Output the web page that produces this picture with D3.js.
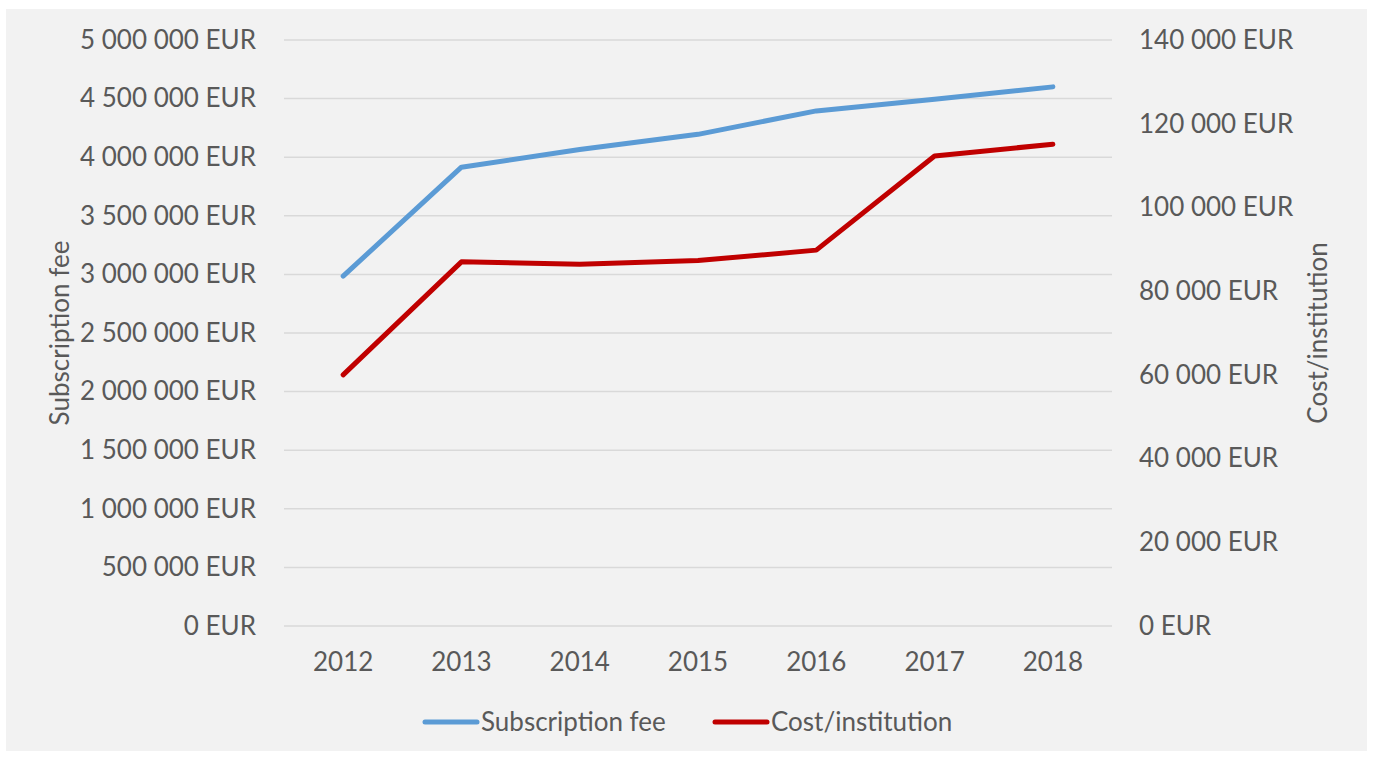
<!DOCTYPE html>
<html>
<head>
<meta charset="utf-8">
<title>Subscription fee and cost per institution</title>
<style>
    body { margin: 0; background: #fff; }
    text { font-family: Lato, "Open Sans", sans-serif; fill: #595959; }
    .grid line { stroke: #d9d9d9; stroke-width: 1.5; }
</style>
<script src="https://cdn.jsdelivr.net/npm/d3@7"></script>
</head>
<body>
<script>
// data
var years = ["2012", "2013", "2014", "2015", "2016", "2017", "2018"];
var subscriptionFee = [2985000, 3915000, 4065000, 4195000, 4395000, 4495000, 4600000];
var costPerInstitution = [60000, 87000, 86400, 87300, 89800, 112300, 115100];
var leftTicks = [0, 500000, 1000000, 1500000, 2000000, 2500000, 3000000, 3500000, 4000000, 4500000, 5000000];
var rightTicks = [0, 20000, 40000, 60000, 80000, 100000, 120000, 140000];

var W = 1373, H = 758;
var margin = { top: 40, right: 261, bottom: 132, left: 284 };
var width = W - margin.left - margin.right,
    height = H - margin.top - margin.bottom;

var svg = d3.select("body").append("svg")
    .attr("width", W)
    .attr("height", H);

// grey chart area
svg.append("rect")
    .attr("x", 6).attr("y", 9)
    .attr("width", 1361).attr("height", 742)
    .attr("fill", "#f2f2f2");

var g = svg.append("g")
    .attr("transform", "translate(" + margin.left + "," + margin.top + ")");

var x = d3.scaleBand().domain(years).range([0, width]).padding(0);
var yL = d3.scaleLinear().domain([0, 5000000]).range([height, 0]);
var yR = d3.scaleLinear().domain([0, 140000]).range([height, 0]);

// thousands separated by a space
var fmt = function(v) {
    return d3.format(",")(v).replace(/,/g, " ") + " EUR";
};

// gridlines
g.append("g").attr("class", "grid")
    .selectAll("line").data(leftTicks).enter().append("line")
    .attr("x1", 0).attr("x2", width)
    .attr("y1", function(d) { return yL(d); })
    .attr("y2", function(d) { return yL(d); });

// left axis
var axL = g.append("g")
    .call(d3.axisLeft(yL).tickValues(leftTicks).tickFormat(fmt).tickSize(0).tickPadding(28));
axL.select(".domain").remove();
axL.selectAll("text").style("font-size", "26px").attr("fill", "#595959");

// right axis
var axR = g.append("g")
    .attr("transform", "translate(" + width + ",0)")
    .call(d3.axisRight(yR).tickValues(rightTicks).tickFormat(fmt).tickSize(0).tickPadding(27));
axR.select(".domain").remove();
axR.selectAll("text").style("font-size", "26px").attr("fill", "#595959");

// x axis
var axX = g.append("g")
    .attr("transform", "translate(0," + height + ")")
    .call(d3.axisBottom(x).tickSize(0).tickPadding(27));
axX.select(".domain").remove();
axX.selectAll("text").style("font-size", "26px").attr("fill", "#595959");

// axis titles
svg.append("text")
    .attr("transform", "translate(69," + (margin.top + height / 2) + ") rotate(-90)")
    .attr("text-anchor", "middle")
    .style("font-size", "26px")
    .text("Subscription fee");

svg.append("text")
    .attr("transform", "translate(1327," + (margin.top + height / 2) + ") rotate(-90)")
    .attr("text-anchor", "middle")
    .style("font-size", "26px")
    .text("Cost/institution");

// lines
var cx = function(i) { return x(years[i]) + x.bandwidth() / 2; };

var lineL = d3.line()
    .x(function(d, i) { return cx(i); })
    .y(function(d) { return yL(d); });
var lineR = d3.line()
    .x(function(d, i) { return cx(i); })
    .y(function(d) { return yR(d); });

g.append("path")
    .datum(subscriptionFee)
    .attr("d", lineL)
    .attr("fill", "none")
    .attr("stroke", "#5b9bd5")
    .attr("stroke-width", 5)
    .attr("stroke-linecap", "round")
    .attr("stroke-linejoin", "round");

g.append("path")
    .datum(costPerInstitution)
    .attr("d", lineR)
    .attr("fill", "none")
    .attr("stroke", "#c00000")
    .attr("stroke-width", 5)
    .attr("stroke-linecap", "round")
    .attr("stroke-linejoin", "round");

// legend
var legend = [
    { name: "Subscription fee", color: "#5b9bd5", x: 425 },
    { name: "Cost/institution", color: "#c00000", x: 715 }
];
var lg = svg.selectAll(".legend").data(legend).enter().append("g")
    .attr("class", "legend")
    .attr("transform", function(d) { return "translate(" + d.x + ",722)"; });
lg.append("line")
    .attr("x1", 0).attr("x2", 52)
    .attr("stroke", function(d) { return d.color; })
    .attr("stroke-width", 5)
    .attr("stroke-linecap", "round");
lg.append("text")
    .attr("x", 56)
    .attr("dy", "0.35em")
    .style("font-size", "26px")
    .text(function(d) { return d.name; });
</script>
</body>
</html>
